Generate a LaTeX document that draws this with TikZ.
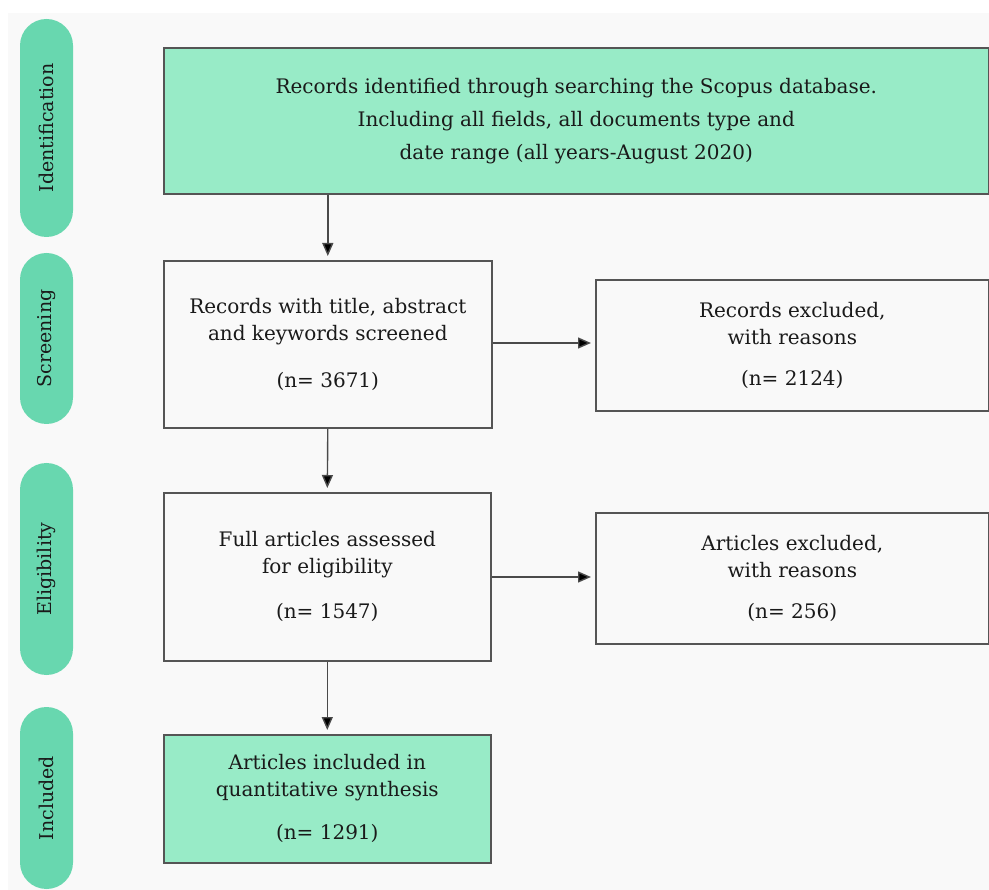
\documentclass[tikz,border=0pt]{standalone}
\usepackage{fontspec}
\setmainfont{DejaVu Serif}
\usetikzlibrary{arrows.meta}
\definecolor{bgray}{HTML}{F9F9F9}
\definecolor{boxgreen}{HTML}{98EBC7}
\definecolor{pillgreen}{HTML}{68D7AF}
\definecolor{edge}{HTML}{555555}
\definecolor{ink}{HTML}{1A1A1A}
\definecolor{arrowc}{HTML}{4A4A4A}
\tikzset{
  flowbox/.style={draw=edge, line width=1.6pt, anchor=north west, inner sep=0pt,
    align=center, text=ink, font=\fontsize{20}{27}\selectfont},
  greenbox/.style={flowbox, fill=boxgreen},
  plainbox/.style={flowbox, fill=bgray},
  pill/.style={fill=pillgreen, rounded corners=26.5pt, rotate=90, inner sep=0pt,
    minimum height=53pt, text=ink, font=\fontsize{19}{27}\selectfont},
  arr/.style={draw=arrowc, line width=1.4pt, -{Triangle[length=13pt,width=11pt,fill=black]}, shorten >=4pt}
}
\begin{document}
\begin{tikzpicture}[x=1pt,y=-1pt]
\useasboundingbox (0,0) rectangle (989,890);
\fill[white] (0,0) rectangle (989,890);
\fill[bgray] (8,13) rectangle (989,890);

% phase pills
\node[pill, minimum width=218pt] (pid) at (46.5,128) {Identification};
\node[pill, minimum width=171pt] (psc) at (46.5,338.5) {Screening};
\node[pill, minimum width=212pt] (pel) at (46.5,569) {Eligibility};
\node[pill, minimum width=182pt] (pin) at (46.5,798) {Included};

% boxes
\node[greenbox, minimum width=825pt, minimum height=146pt] (top) at (163,47)
  {Records identified through searching the Scopus database.\\[6pt]
   Including all fields, all documents type and\\[6pt]
   date range (all years-August 2020)};
\node[plainbox, minimum width=328pt, minimum height=167pt] (scr) at (163,260)
  {Records with title, abstract\\
   and keywords screened\\[20pt]
   (n= 3671)};
\node[plainbox, minimum width=393pt, minimum height=131pt] (ex1) at (595,279)
  {Records excluded,\\
   with reasons\\[14pt]
   (n= 2124)};
\node[plainbox, minimum width=327pt, minimum height=168pt] (eli) at (163,492)
  {Full articles assessed\\
   for eligibility\\[18pt]
   (n= 1547)};
\node[plainbox, minimum width=393pt, minimum height=131pt] (ex2) at (595,512)
  {Articles excluded,\\
   with reasons\\[14pt]
   (n= 256)};
\node[greenbox, minimum width=327pt, minimum height=128pt] (inc) at (163,734)
  {Articles included in\\
   quantitative synthesis\\[16pt]
   (n= 1291)};

% connectors
\draw[arr] (scr.north |- top.south) -- (scr.north);
\draw[arr] (scr.south) -- (eli.north);
\draw[arr] (eli.south) -- (inc.north);
\draw[arr] (scr.east |- 0,343) -- (ex1.west |- 0,343);
\draw[arr] (eli.east |- 0,577) -- (ex2.west |- 0,577);
\end{tikzpicture}
\end{document}
